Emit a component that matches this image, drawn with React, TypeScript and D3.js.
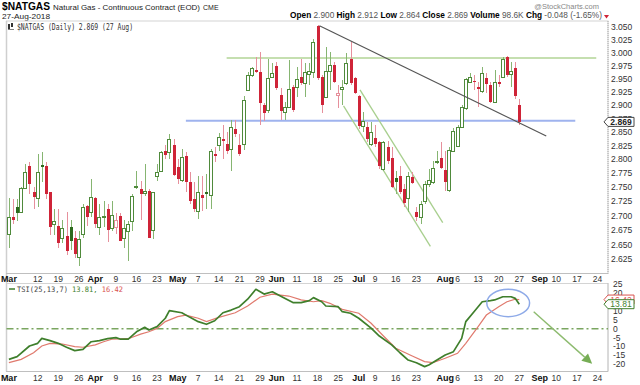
import React from 'react';
import * as d3 from 'd3';

// calendar
const holidays = ['2018-03-30', '2018-05-28', '2018-07-04', '2018-09-03'];
const firstDay = '2018-03-01';
const axisLastDay = '2018-09-28';

// $NATGAS daily OHLC, 1 Mar 2018 .. 27 Aug 2018
const opens = [
  2.669, 2.697, 2.716, 2.707, 2.749, 2.788, 2.742, 2.732, 2.790, 2.788,
  2.742, 2.686, 2.683, 2.661, 2.664, 2.681, 2.662, 2.629, 2.669, 2.717,
  2.707, 2.732, 2.681, 2.697, 2.712, 2.678, 2.681, 2.700, 2.662, 2.674,
  2.690, 2.751, 2.747, 2.740, 2.744, 2.676, 2.770, 2.779, 2.815, 2.813,
  2.826, 2.786, 2.763, 2.806, 2.760, 2.730, 2.709, 2.737, 2.742, 2.737,
  2.810, 2.826, 2.837, 2.828, 2.819, 2.855, 2.826, 2.828, 2.928, 2.958,
  2.967, 2.963, 2.901, 2.892, 2.954, 2.975, 2.920, 2.888, 2.897, 2.935,
  2.935, 2.954, 2.942, 2.960, 2.963, 3.052, 2.954, 2.916, 2.965, 2.977,
  2.920, 2.931, 2.942, 2.988, 2.952, 2.918, 2.862, 2.859, 2.828, 2.840,
  2.831, 2.783, 2.822, 2.803, 2.767, 2.770, 2.747, 2.732, 2.768, 2.707,
  2.697, 2.725, 2.756, 2.760, 2.795, 2.802, 2.781, 2.746, 2.815, 2.824,
  2.860, 2.894, 2.944, 2.946, 2.935, 2.926, 2.952, 2.939, 2.907, 2.944,
  2.954, 2.992, 2.960, 2.971, 2.900,
];
const highs = [
  2.731, 2.730, 2.730, 2.751, 2.792, 2.795, 2.751, 2.810, 2.813, 2.795,
  2.742, 2.712, 2.712, 2.692, 2.707, 2.692, 2.673, 2.674, 2.721, 2.719,
  2.765, 2.733, 2.721, 2.725, 2.721, 2.725, 2.704, 2.704, 2.692, 2.690,
  2.739, 2.779, 2.761, 2.792, 2.747, 2.742, 2.792, 2.815, 2.826, 2.846,
  2.837, 2.801, 2.819, 2.813, 2.777, 2.760, 2.770, 2.770, 2.774, 2.819,
  2.822, 2.848, 2.864, 2.850, 2.873, 2.873, 2.846, 2.918, 2.963, 2.973,
  2.992, 3.002, 2.905, 2.988, 2.981, 2.983, 2.933, 2.907, 2.986, 2.939,
  2.973, 2.988, 2.981, 2.981, 3.027, 3.055, 2.958, 3.012, 3.002, 2.983,
  2.939, 2.948, 3.000, 3.021, 2.954, 2.920, 2.888, 2.868, 2.868, 2.864,
  2.833, 2.833, 2.833, 2.822, 2.779, 2.788, 2.756, 2.777, 2.777, 2.716,
  2.725, 2.761, 2.783, 2.797, 2.815, 2.831, 2.815, 2.822, 2.857, 2.864,
  2.901, 2.952, 2.961, 2.958, 2.944, 2.973, 2.961, 2.944, 2.967, 2.958,
  2.992, 2.994, 2.983, 2.983, 2.912,
];
const lows = [
  2.644, 2.686, 2.690, 2.704, 2.747, 2.739, 2.712, 2.716, 2.760, 2.730,
  2.666, 2.666, 2.644, 2.652, 2.632, 2.640, 2.627, 2.614, 2.661, 2.683,
  2.698, 2.678, 2.666, 2.681, 2.654, 2.673, 2.669, 2.656, 2.644, 2.622,
  2.674, 2.747, 2.692, 2.735, 2.661, 2.659, 2.761, 2.777, 2.801, 2.801,
  2.770, 2.756, 2.760, 2.742, 2.721, 2.707, 2.695, 2.709, 2.712, 2.711,
  2.795, 2.815, 2.801, 2.810, 2.779, 2.842, 2.806, 2.817, 2.926, 2.954,
  2.961, 2.864, 2.870, 2.886, 2.952, 2.929, 2.873, 2.873, 2.895, 2.888,
  2.916, 2.939, 2.916, 2.939, 2.952, 2.948, 2.886, 2.914, 2.929, 2.942,
  2.895, 2.901, 2.939, 2.939, 2.922, 2.855, 2.851, 2.831, 2.824, 2.822,
  2.783, 2.779, 2.792, 2.749, 2.739, 2.739, 2.716, 2.707, 2.756, 2.690,
  2.686, 2.721, 2.751, 2.756, 2.792, 2.783, 2.744, 2.742, 2.813, 2.822,
  2.859, 2.892, 2.942, 2.929, 2.897, 2.924, 2.924, 2.905, 2.905, 2.935,
  2.952, 2.954, 2.935, 2.911, 2.864,
];
const closes = [
  2.698, 2.693, 2.705, 2.749, 2.777, 2.756, 2.733, 2.777, 2.786, 2.739,
  2.681, 2.690, 2.652, 2.678, 2.639, 2.657, 2.634, 2.659, 2.716, 2.698,
  2.733, 2.685, 2.698, 2.700, 2.676, 2.702, 2.692, 2.657, 2.678, 2.686,
  2.735, 2.753, 2.739, 2.744, 2.662, 2.742, 2.777, 2.813, 2.808, 2.838,
  2.772, 2.765, 2.804, 2.760, 2.726, 2.712, 2.742, 2.732, 2.739, 2.815,
  2.806, 2.842, 2.835, 2.815, 2.860, 2.846, 2.810, 2.909, 2.958, 2.971,
  2.963, 2.905, 2.886, 2.952, 2.961, 2.933, 2.890, 2.897, 2.931, 2.892,
  2.950, 2.942, 2.963, 2.965, 3.021, 2.952, 2.901, 2.965, 2.977, 2.944,
  2.924, 2.935, 2.981, 2.942, 2.924, 2.862, 2.871, 2.837, 2.851, 2.828,
  2.788, 2.831, 2.797, 2.751, 2.760, 2.742, 2.723, 2.770, 2.758, 2.697,
  2.721, 2.756, 2.763, 2.785, 2.797, 2.785, 2.760, 2.817, 2.853, 2.860,
  2.897, 2.950, 2.954, 2.944, 2.931, 2.961, 2.940, 2.907, 2.944, 2.940,
  2.988, 2.958, 2.965, 2.917, 2.869,
];

// TSI(25,13,7) and its signal line, sampled at trading-day index
const tsiDays = [0, 2, 5, 7, 8, 10, 12, 14, 16, 18, 20, 22, 24, 26, 27, 29, 31, 33, 34, 36, 38, 39, 42, 44, 46, 48, 50, 52, 54, 56, 58, 60, 62, 64, 67, 69, 71, 73, 74, 76, 77, 80, 81, 83, 85, 88, 90, 93, 95, 97, 99, 101, 102, 104, 106, 108, 110, 111, 113, 115, 117, 118, 120, 122, 123, 124];
const tsiValues = [-17.2, -15.7, -9.7, -8.2, -5.4, -6.7, -8.2, -10.4, -12.3, -11.6, -7.3, -6.7, -5.6, -5.0, -5.8, -5.8, -1.7, 0.8, -0.7, 1.2, 5.9, 10.2, 9.0, 6.4, 4.0, 2.5, 4.5, 9.0, 10.5, 12.4, 16.6, 22.2, 19.5, 20.8, 17.1, 14.7, 14.7, 15.8, 17.5, 15.2, 12.8, 12.4, 9.6, 8.7, 5.9, 0.3, -4.1, -9.1, -13.5, -17.6, -19.1, -21.3, -20.4, -17.6, -14.8, -12.9, -5.4, 4.0, 9.6, 15.2, 15.8, 16.2, 18.0, 18.0, 17.1, 13.81];
const signalDays = [0, 3, 6, 8, 10, 13, 16, 18, 21, 23, 25, 29, 32, 34, 36, 38, 41, 43, 46, 48, 51, 55, 58, 61, 64, 68, 71, 74, 76, 78, 81, 85, 88, 91, 94, 98, 101, 103, 106, 109, 111, 114, 116, 119, 121, 123, 124];
const signalValues = [-19.1, -17.2, -13.5, -9.7, -8.2, -8.6, -10.1, -10.4, -9.1, -7.3, -5.9, -5.6, -3.0, -1.7, 0.2, 4.0, 6.8, 7.7, 5.9, 4.0, 6.4, 9.0, 12.8, 17.7, 19.5, 18.4, 16.2, 15.2, 15.8, 14.3, 10.9, 8.7, 3.1, -4.1, -11.0, -15.3, -18.5, -19.1, -16.6, -13.8, -8.2, 1.2, 7.7, 12.4, 15.2, 16.6, 16.42];

// axes
const priceTicks = [3.05, 3.025, 3.0, 2.975, 2.95, 2.925, 2.9, 2.875, 2.85, 2.825, 2.8, 2.775, 2.75, 2.725, 2.7, 2.675, 2.65, 2.625];
const tsiTicks = [25, 20, 15, 10, 5, 0, -5, -10, -15, -20];
const dateTickDays = ['2018-03-01', '2018-03-12', '2018-03-19', '2018-03-26', '2018-04-02', '2018-04-09', '2018-04-16', '2018-04-23', '2018-04-30', '2018-05-07', '2018-05-14', '2018-05-21', '2018-05-29', '2018-06-04', '2018-06-11', '2018-06-18', '2018-06-25', '2018-07-02', '2018-07-09', '2018-07-16', '2018-07-23', '2018-08-01', '2018-08-06', '2018-08-13', '2018-08-20', '2018-08-27', '2018-09-04', '2018-09-10', '2018-09-17', '2018-09-24'];
const dateTickLabels = ['Mar', '12', '19', '26', 'Apr', '9', '16', '23', 'May', '7', '14', '21', '29', 'Jun', '11', '18', '25', 'Jul', '9', '16', '23', 'Aug', '6', '13', '20', '27', 'Sep', '10', '17', '24'];

// hand-drawn annotations as [day index, value]
const resistance = [[52.9, 2.99], [142.7, 2.99]];
const support = [[43, 2.871], [137.6, 2.871]];
const downTrend = [[75.45, 3.053], [130.55, 2.843]];
const channelLow = [[81.3, 2.899], [102.4, 2.647]];
const channelHigh = [[85.3, 2.929], [105.4, 2.688]];
const tsiArrow = [[127.5, 9.6], [141.7, -19.7]];
const tsiCircle = { day: 121.3, value: 14.5, days: 5.2, span: 7.7 };

const lastClose = 2.869;

const SANS = '"Liberation Sans", Arial, sans-serif';
const MONO = '"DejaVu Sans Mono", monospace';

export default function App() {
  const parse = d3.utcParse('%Y-%m-%d');
  const fmt = d3.utcFormat('%Y-%m-%d');
  const days = d3.utcDay
    .range(parse(firstDay) as Date, d3.utcDay.offset(parse(axisLastDay) as Date, 1))
    .filter(d => d.getUTCDay() % 6 !== 0 && !holidays.includes(fmt(d)))
    .map(fmt);
  const dayIndex = (s: string) => days.indexOf(s);

  const left = 6.5, right = 608;
  const pTop = 21, pBottom = 273.5, tTop = 283.5, tBottom = 371.5;

  const x = d3.scaleLinear()
    .domain([dayIndex('2018-03-12'), dayIndex('2018-09-24')])
    .range([37.7, 597.5]);
  const y = d3.scaleLog().domain([2.625, 3.05]).range([259.3, 27.3]);
  const yT = d3.scaleLinear().domain([-20, 25]).range([364.3, 284.3]);

  const tsiLine = d3.line<number>().x((_, i) => x(tsiDays[i])).y(v => yT(v));
  const sigLine = d3.line<number>().x((_, i) => x(signalDays[i])).y(v => yT(v));

  const seg = (pts: number[][], sy: (v: number) => number) => ({
    x1: x(pts[0][0]), y1: sy(pts[0][1]), x2: x(pts[1][0]), y2: sy(pts[1][1]),
  });

  const candles = closes.map((c, i) => {
    const o = opens[i];
    const up = i === 0 || c >= closes[i - 1];
    const hollow = c > o;
    const k = Math.round(x(i));
    const cx = k + 0.5;
    const yTop = y(Math.max(o, c));
    const yBot = y(Math.min(o, c));
    const hY = y(highs[i]);
    const lY = y(lows[i]);
    const bodyCol = up ? (hollow ? '#4f8a3b' : '#2d6a1e') : '#cf2438';
    const wickCol = up ? '#86b571' : '#e6909c';
    if (hollow) {
      const t = Math.round(yTop) + 0.5;
      const b = Math.max(t + 1, Math.round(yBot) + 0.5);
      return (
        <g key={i}>
          <line x1={cx} x2={cx} y1={hY} y2={t} stroke={wickCol} />
          <line x1={cx} x2={cx} y1={b} y2={lY} stroke={wickCol} />
          <rect x={k - 1.5} y={t} width={3} height={b - t} fill="#fff"
            stroke={up ? bodyCol : '#e6909c'} strokeWidth={1} />
        </g>
      );
    }
    return (
      <g key={i}>
        <line x1={cx} x2={cx} y1={hY} y2={lY} stroke={wickCol} />
        <rect x={k - 1} y={yTop} width={3} height={Math.max(1.5, yBot - yTop)} fill={bodyCol} />
      </g>
    );
  });

  const a = seg(tsiArrow, yT);
  const ang = Math.atan2(a.y2 - a.y1, a.x2 - a.x1);
  const head = 10, half = 5;
  const bx = a.x2 - head * Math.cos(ang), by = a.y2 - head * Math.sin(ang);
  const arrowHead = `M${a.x2},${a.y2}L${bx - half * Math.sin(ang)},${by + half * Math.cos(ang)}L${bx + half * Math.sin(ang)},${by - half * Math.cos(ang)}Z`;

  const tag = (yy: number) => `M${right - 4},${yy}L${right},${yy - 4.5}L${right + 26},${yy - 4.5}L${right + 26},${yy + 4.5}L${right},${yy + 4.5}Z`;

  const lastTsi = tsiValues[tsiValues.length - 1];
  const lastSig = signalValues[signalValues.length - 1];

  return (
    <svg width={640} height={385} style={{ position: 'absolute', left: 0, top: 0, background: '#fff' }}
      fontFamily={SANS}>
      {/* header */}
      <text x={2} y={10} fontSize={10.5} fontWeight="bold" textLength={48} lengthAdjust="spacingAndGlyphs">$NATGAS</text>
      <text x={53} y={10} fontSize={8} fill="#222" textLength={147} lengthAdjust="spacingAndGlyphs">Natural Gas - Continuous Contract (EOD)</text>
      <text x={203} y={10} fontSize={7} fill="#222">CME</text>
      <text x={2} y={19} fontSize={8} fill="#222" textLength={48} lengthAdjust="spacingAndGlyphs">27-Aug-2018</text>
      <text x={599} y={8.5} fontSize={7.5} fill="#888" textAnchor="end">@StockCharts.com</text>
      <text x={290} y={18} fontSize={8.5} textLength={312} lengthAdjust="spacingAndGlyphs">
        <tspan fontWeight="bold">Open</tspan><tspan fill="#555"> 2.900 </tspan>
        <tspan fontWeight="bold">High</tspan><tspan fill="#555"> 2.912 </tspan>
        <tspan fontWeight="bold">Low</tspan><tspan fill="#555"> 2.864 </tspan>
        <tspan fontWeight="bold">Close</tspan><tspan fill="#555"> 2.869 </tspan>
        <tspan fontWeight="bold">Volume</tspan><tspan fill="#555"> 98.6K </tspan>
        <tspan fontWeight="bold">Chg</tspan><tspan fill="#555"> -0.048 (-1.65%)</tspan>
      </text>
      <path d="M604,15L609,15L606.5,18.5Z" fill="#cf2438" />

      {/* panels */}
      <rect x={left} y={pTop} width={right - left} height={pBottom - pTop} fill="none" stroke="#d4d4d4" />
      <rect x={left} y={tTop} width={right - left} height={tBottom - tTop} fill="none" stroke="#d4d4d4" />
      <line x1={left} x2={left} y1={pTop} y2={tBottom} stroke="#cfcfcf" strokeWidth={1.5} />
      <line x1={right} x2={right} y1={pTop} y2={pBottom} stroke="#aaa" strokeDasharray="1,1" />
      <line x1={right} x2={right} y1={tTop} y2={tBottom} stroke="#aaa" strokeDasharray="1,1" />
      <line x1={left} x2={right} y1={pBottom} y2={pBottom} stroke="#aaa" strokeDasharray="1,1" />
      <line x1={left} x2={right} y1={tBottom} y2={tBottom} stroke="#aaa" strokeDasharray="1,1" />

      {/* price legend */}
      <rect x={8} y={24} width={2} height={5} fill="#333" />
      <rect x={11} y={23} width={2} height={4} fill="#333" />
      <line x1={8} x2={14} y1={29.5} y2={29.5} stroke="#333" strokeWidth={0.6} />
      <text x={17} y={30} fontFamily={MONO} fontSize={8} fill="#333" textLength={116} lengthAdjust="spacingAndGlyphs">$NATGAS (Daily) 2.869 (27 Aug)</text>

      {/* annotation lines behind candles */}
      <line {...seg(support, y)} stroke="#9fb3ee" strokeWidth={2} />
      <line {...seg(resistance, y)} stroke="#8cc063" strokeWidth={1.2} />
      <line {...seg(channelLow, y)} stroke="#a8cf8e" strokeWidth={1.3} />
      <line {...seg(channelHigh, y)} stroke="#a8cf8e" strokeWidth={1.3} />

      <g shapeRendering="crispEdges">{candles}</g>

      <line {...seg(downTrend, y)} stroke="#555" strokeWidth={1.2} />

      {/* price axis */}
      {priceTicks.map(t => (
        <text key={t} x={611} y={y(t)} dy="0.35em" fontSize={8.5} fill="#333">{t.toFixed(3)}</text>
      ))}
      <path d={tag(y(lastClose))} fill="#fff" stroke="#444" />
      <text x={right + 13} y={y(lastClose)} dy="0.36em" fontSize={8.5} fontWeight="bold" fill="#222" textAnchor="middle">{lastClose.toFixed(3)}</text>

      {/* date labels */}
      {dateTickDays.map((d, i) => {
        const lab = dateTickLabels[i];
        const bold = isNaN(+lab);
        return (
          <g key={d}>
            <text x={x(dayIndex(d))} y={281.5} fontSize={bold ? 9 : 8.5} fontWeight={bold ? 'bold' : 'normal'} fill={bold ? '#111' : '#333'} textAnchor="middle">{lab}</text>
            <text x={x(dayIndex(d))} y={380.5} fontSize={bold ? 9 : 8.5} fontWeight={bold ? 'bold' : 'normal'} fill={bold ? '#111' : '#333'} textAnchor="middle">{lab}</text>
          </g>
        );
      })}

      {/* TSI panel */}
      <line x1={left} x2={right} y1={yT(0)} y2={yT(0)} stroke="#7aa660" strokeWidth={1.3} strokeDasharray="7,3,2,3" />
      <path d={sigLine(signalValues) || ''} fill="none" stroke="#e07a6e" strokeWidth={1.2} />
      <path d={tsiLine(tsiValues) || ''} fill="none" stroke="#3f7f2c" strokeWidth={1.7} strokeLinejoin="round" />
      <ellipse cx={x(tsiCircle.day)} cy={yT(tsiCircle.value)}
        rx={x(tsiCircle.day + tsiCircle.days) - x(tsiCircle.day)}
        ry={yT(tsiCircle.value - tsiCircle.span) - yT(tsiCircle.value)}
        fill="none" stroke="#8eaae8" strokeWidth={1.5} />
      <line x1={a.x1} y1={a.y1} x2={bx} y2={by} stroke="#8dbb6f" strokeWidth={1.4} />
      <path d={arrowHead} fill="#76ad55" />

      <line x1={9} x2={15} y1={289} y2={289} stroke="#3f7f2c" strokeWidth={1.5} />
      <text x={17} y={292} fontFamily={MONO} fontSize={7.5} textLength={106} lengthAdjust="spacingAndGlyphs">
        <tspan fill="#444">TSI(25,13,7)</tspan>
        <tspan fill="#3f7f2c"> {lastTsi.toFixed(2)},</tspan>
        <tspan fill="#d9534f"> {lastSig.toFixed(2)}</tspan>
      </text>

      {tsiTicks.map(t => (
        <text key={t} x={613} y={yT(t)} dy="0.35em" fontSize={8.5} fill="#333">{t}</text>
      ))}
      <path d={tag(yT(lastSig))} fill="#fff" stroke="#d9534f" />
      <text x={right + 13} y={yT(lastSig)} dy="0.36em" fontSize={8.5} fill="#d9534f" textAnchor="middle">{lastSig.toFixed(2)}</text>
      <path d={tag(yT(lastTsi))} fill="#fff" stroke="#3f7f2c" />
      <text x={right + 13} y={yT(lastTsi)} dy="0.36em" fontSize={8.5} fill="#3f7f2c" textAnchor="middle">{lastTsi.toFixed(2)}</text>
    </svg>
  );
}
